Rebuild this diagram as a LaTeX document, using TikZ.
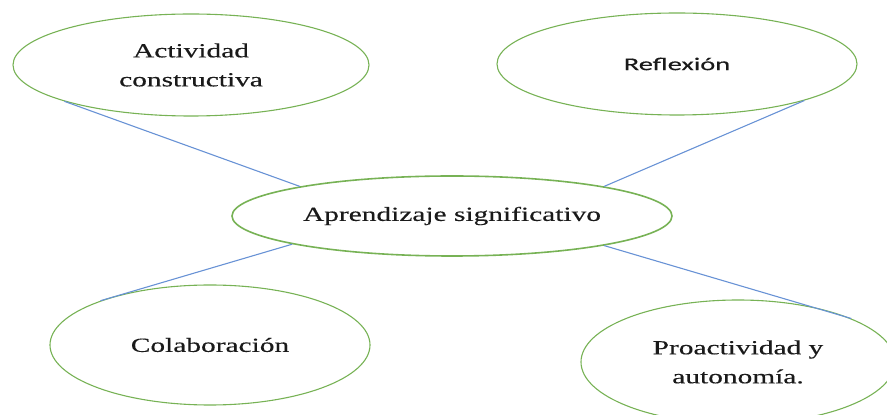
\documentclass[tikz,border=0pt]{standalone}
\usepackage{fontspec}
\usetikzlibrary{shapes.geometric}
\newfontfamily\tnrfont[FakeStretch=1.47,FakeBold=0.35]{Liberation Serif}
\newfontfamily\calfont[FakeStretch=1.58,FakeBold=0.35]{Carlito}
\definecolor{ellgreen}{HTML}{77B255}
\definecolor{linkblue}{HTML}{6892D5}
\definecolor{txt}{HTML}{1A1A1A}
\tikzset{
  bubble/.style={ellipse, draw=ellgreen, line width=1.1pt, inner sep=0pt, text=txt, align=center,
    font=\tnrfont\fontsize{20}{29}\selectfont},
  link/.style={draw=linkblue, line width=1.1pt}
}
\begin{document}
\begin{tikzpicture}[x=1pt,y=1pt]
\useasboundingbox (0,0) rectangle (887,415);
\clip (0,0) rectangle (887,415);
\node[bubble, minimum width=356pt, minimum height=102pt] (act) at (191,350) {Actividad\\constructiva};
\node[bubble, minimum width=360pt, minimum height=102pt, font=\calfont\fontsize{18}{26}\selectfont] (ref) at (677,351) {Reflexión};
\node[bubble, line width=1.6pt, minimum width=440pt, minimum height=80pt] (apr) at (452,199) {Aprendizaje significativo};
\node[bubble, minimum width=320pt, minimum height=120pt] (col) at (210,70) {Colaboración};
\node[bubble, minimum width=314pt, minimum height=124pt] (pro) at (738,53) {Proactividad y\\autonomía.};
\draw[link] (act.196) -- (apr.169.5);
\draw[link] (ref.344) -- (apr.11);
\draw[link] (apr.190.6) -- (col.158.7);
\draw[link] (apr.349) -- (pro.21.5);
\end{tikzpicture}
\end{document}
